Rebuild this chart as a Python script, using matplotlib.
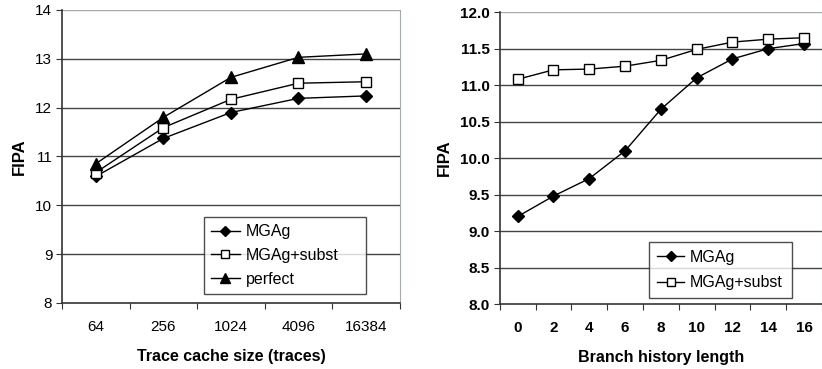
import matplotlib.pyplot as plt
import numpy as np

plt.rcParams['font.family'] = ['Liberation Sans', 'DejaVu Sans']

# left panel: trace cache size
cache_sizes = ['64', '256', '1024', '4096', '16384']
mgag_cache = [10.59, 11.37, 11.90, 12.19, 12.24]
subst_cache = [10.67, 11.59, 12.17, 12.50, 12.53]
perfect_cache = [10.85, 11.80, 12.62, 13.03, 13.10]

# right panel: branch history length
hist_lengths = ['0', '2', '4', '6', '8', '10', '12', '14', '16']
mgag_hist = [9.20, 9.48, 9.72, 10.10, 10.67, 11.10, 11.36, 11.50, 11.57]
subst_hist = [11.08, 11.21, 11.22, 11.26, 11.34, 11.49, 11.59, 11.63, 11.65]

frame_col = '#a3adad'
grid_col = '#444444'
spine_col = '#333333'

fig = plt.figure(figsize=(8.22, 3.69), dpi=100)
ax1 = fig.add_axes([0.0754, 0.179, 0.411, 0.794])
ax2 = fig.add_axes([0.608, 0.176, 0.392, 0.791])


def style_axes(ax, n, ylim, yticks, yfmt, bold_ticks):
    ax.set_xlim(-0.5, n - 0.5)
    ax.set_ylim(*ylim)
    ax.set_yticks(yticks)
    ax.set_yticklabels([yfmt % v for v in yticks],
                       fontweight='bold' if bold_ticks else 'normal', fontsize=11)
    ax.set_xticks(np.arange(-0.5, n, 1.0))
    ax.set_xticklabels([])
    ax.set_xticks(np.arange(n), minor=True)
    ax.tick_params(axis='x', which='minor', length=0, pad=12)
    ax.tick_params(axis='x', which='major', length=4, direction='out', color=spine_col)
    ax.tick_params(axis='y', length=4, direction='out', color=spine_col, pad=3)
    for v in yticks[1:]:
        ax.axhline(v, color=grid_col if v != yticks[-1] else frame_col,
                   lw=1.0, zorder=1)
    ax.spines['top'].set_visible(False)
    ax.spines['right'].set_color(frame_col)
    ax.spines['left'].set_color(spine_col)
    ax.spines['bottom'].set_color(spine_col)
    ax.spines['left'].set_linewidth(1.2)
    ax.spines['bottom'].set_linewidth(1.2)
    ax.set_ylabel('FIPA', fontweight='bold', fontsize=12, labelpad=6)


x1 = np.arange(len(cache_sizes))
ax1.plot(x1, mgag_cache, color='black', lw=1, marker='D', ms=6, mfc='black',
         label='MGAg', zorder=3)
ax1.plot(x1, subst_cache, color='black', lw=1, marker='s', ms=7, mfc='white',
         mec='black', mew=1, label='MGAg+subst', zorder=3)
ax1.plot(x1, perfect_cache, color='black', lw=1, marker='^', ms=8.5, mfc='black',
         label='perfect', zorder=3)
style_axes(ax1, len(cache_sizes), (8, 14), [8, 9, 10, 11, 12, 13, 14], '%d', False)
ax1.set_xticks(x1, minor=True)
ax1.set_xticklabels(cache_sizes, minor=True, fontsize=11)
ax1.set_xlabel('Trace cache size (traces)', fontweight='bold', fontsize=11.5, labelpad=11)
leg1 = ax1.legend(loc='lower left', bbox_to_anchor=(0.42, 0.031, 0.479, 0.266),
                  mode='expand', borderaxespad=0, fontsize=11.5, frameon=True,
                  fancybox=False, edgecolor='#222222', handlelength=1.8,
                  borderpad=0.45, labelspacing=0.55, handletextpad=0.4,
                  markerscale=0.8)
leg1.get_frame().set_linewidth(1.0)

x2 = np.arange(len(hist_lengths))
ax2.plot(x2, mgag_hist, color='black', lw=1, marker='D', ms=6, mfc='black',
         label='MGAg', zorder=3)
ax2.plot(x2, subst_hist, color='black', lw=1, marker='s', ms=7, mfc='white',
         mec='black', mew=1, label='MGAg+subst', zorder=3)
style_axes(ax2, len(hist_lengths), (8, 12),
           [8.0, 8.5, 9.0, 9.5, 10.0, 10.5, 11.0, 11.5, 12.0], '%.1f', True)
ax2.set_xticks(x2, minor=True)
ax2.set_xticklabels(hist_lengths, minor=True, fontsize=11, fontweight='bold')
ax2.set_xlabel('Branch history length', fontweight='bold', fontsize=11.5, labelpad=11)
leg2 = ax2.legend(loc='lower left', bbox_to_anchor=(0.464, 0.02, 0.442, 0.2),
                  mode='expand', borderaxespad=0, fontsize=11.5, frameon=True,
                  fancybox=False, edgecolor='#222222', handlelength=1.7,
                  borderpad=0.5, labelspacing=0.65, handletextpad=0.35,
                  markerscale=0.8)
leg2.get_frame().set_linewidth(1.0)

fig.savefig('out.png', dpi=100)
